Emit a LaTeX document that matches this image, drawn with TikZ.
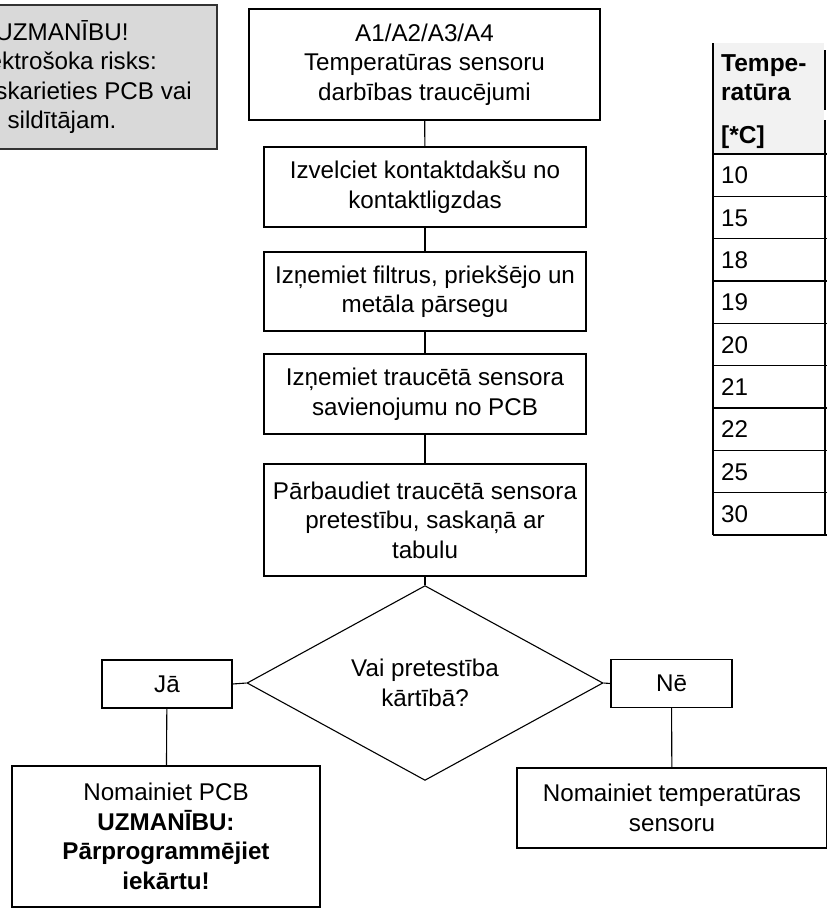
\documentclass[tikz,border=0pt]{standalone}
\usepackage{fontspec}
\setmainfont{Liberation Sans}
\usetikzlibrary{shapes.geometric}

\tikzset{
  stepbox/.style={draw, line width=1.1pt, align=center, inner sep=0pt,
    minimum width=322pt, minimum height=80pt},
  answer/.style={draw, line width=1.1pt, align=center, inner sep=0pt,
    minimum height=48pt},
  link/.style={line width=1.1pt},
}

\begin{document}
\begin{tikzpicture}[x=1pt, y=-1pt, font=\fontsize{24.2}{29.5}\selectfont]
    \path[use as bounding box, clip] (0,0) rectangle (827,916);

    % warning note, cut at the left edge
    \node[draw=black!80, fill=black!15, line width=1.1pt, align=center,
      minimum width=310pt, minimum height=144pt] (warn) at (62,77)
      {UZMANĪBU!\\Elektrošoka risks:\\Nepieskarieties PCB vai\\sildītājam.};

    % flow steps
    \node[stepbox, minimum width=351pt, minimum height=111pt] (fault) at (424.5,64.5)
      {A1/A2/A3/A4\\Temperatūras sensoru\\darbības traucējumi};
    \node[stepbox] (plug) at (425,187) {Izvelciet kontaktdakšu no\\kontaktligzdas};
    \node[stepbox, minimum height=79pt] (cover) at (425,291.5)
      {Izņemiet filtrus, priekšējo un\\metāla pārsegu};
    \node[stepbox] (unplug) at (425,394) {Izņemiet traucētā sensora\\savienojumu no PCB};
    \node[stepbox, minimum height=112pt] (check) at (425,520)
      {Pārbaudiet traucētā sensora\\pretestību, saskaņā ar\\tabulu};

    % decision
    \node[draw, diamond, line width=1.1pt, align=center, inner sep=0pt,
      minimum width=356pt, minimum height=184pt] (ok) at (425,683)
      {Vai pretestība\\kārtībā?};
    \node[answer, minimum width=130pt] (yes) at (167,684) {Jā};
    \node[answer, minimum width=121pt] (no) at (671.5,683.5) {Nē};

    % results
    \node[stepbox, minimum width=308pt, minimum height=141pt] (pcb) at (166,836.5)
      {Nomainiet PCB\\\textbf{UZMANĪBU:}\\\textbf{Pārprogrammējiet}\\\textbf{iekārtu!}};
    \node[stepbox, minimum width=310pt] (sensor) at (672,808)
      {Nomainiet temperatūras\\sensoru};

    % connectors
    \draw[link] (fault) -- (plug);
    \draw[link] (plug) -- (cover);
    \draw[link] (cover) -- (unplug);
    \draw[link] (unplug) -- (check);
    \draw[link] (check) -- (ok);
    \draw[link] (ok.west) -- (yes.east);
    \draw[link] (ok.east) -- (no.west);
    \draw[link] (yes) -- (pcb);
    \draw[link] (no) -- (sensor);

    % resistance table, cut at the right edge
    \fill[black!5] (713,43) rectangle (824,154);
    \draw[line width=1.1pt] (713,43) -- (713,535);
    \draw[line width=1.1pt] (825,50) -- (825,110);
    \draw[line width=1.1pt] (825,120) -- (825,535);
    \foreach \r in {0,...,9}
      \draw[line width=1.1pt] (713,154+42.33*\r) -- (827,154+42.33*\r);
    \node[anchor=west, align=left, inner sep=0pt, font=\fontsize{24.5}{29}\selectfont\bfseries]
      (head) at (721,77.5) {Tempe-\\ratūra};
    \node[anchor=west, inner sep=0pt, font=\fontsize{24.5}{29}\selectfont\bfseries]
      (unit) at (721,137) {[*C]};
    \foreach \t [count=\i from 0] in {10,15,18,19,20,21,22,25,30}
      \node[anchor=west, inner sep=0pt] (t\i) at (721,175.5+42.33*\i) {\t};
\end{tikzpicture}
\end{document}
